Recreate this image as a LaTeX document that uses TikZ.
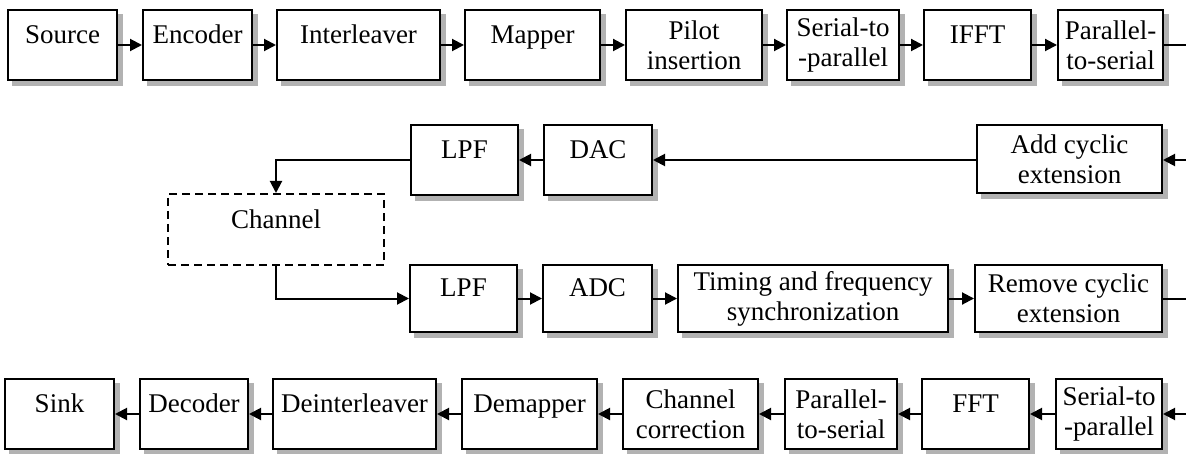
\documentclass[tikz,border=0pt]{standalone}
\usepackage{fontspec}
\setmainfont{Liberation Serif}
\usetikzlibrary{arrows.meta}

\tikzset{
	blk/.style={draw, line width=1pt, fill=white, align=center, inner sep=0pt, font=\fontsize{13.5}{15}\selectfont, preaction={draw=gray!60, fill=gray!60, line width=1pt, transform canvas={xshift=2.5pt, yshift=-2.5pt}}},
	one/.style={text depth=10.5pt},
	chbox/.style={draw, line width=1pt, dash pattern=on 4pt off 2.5pt, align=center, inner sep=0pt, font=\fontsize{13.5}{15}\selectfont},
	arr/.style={line width=1pt, -{Triangle[length=6pt,width=6pt]}},
	ln/.style={line width=1pt}
}

\begin{document}
\begin{tikzpicture}[x=0.5pt, y=-0.5pt]
	    \useasboundingbox (0,0) rectangle (1186,454);
	    
	    \node [blk, one, minimum width=54.5pt, minimum height=35pt] (AA) at (62.5,45) {Source};
	    \node [blk, one, minimum width=54.5pt, minimum height=35pt] (AB) at (197.5,45) {Encoder};
	    \node [blk, one, minimum width=81.5pt, minimum height=35pt] (AC) at (358.5,45) {Interleaver};
	    \node [blk, one, minimum width=67.5pt, minimum height=35pt] (AD) at (532.5,45) {Mapper};
	    \node [blk, minimum width=68pt, minimum height=35pt] (AE) at (694,45) {Pilot\\insertion};
	    \node [blk, minimum width=56pt, minimum height=35pt] (AF) at (843,45) {Serial-to\\-parallel};
	    \node [blk, one, minimum width=53.5pt, minimum height=35pt] (AG) at (977.5,45) {IFFT};
	    \node [blk, minimum width=52.5pt, minimum height=35pt] (AH) at (1110.5,45) {Parallel-\\to-serial};
	    \coordinate (AZ) at (1186,45);
	    
	    \node [blk, one, minimum width=53.5pt, minimum height=35pt] (BA) at (464.5,160) {LPF};
	    \node [blk, one, minimum width=54pt, minimum height=35pt] (BB) at (598,160) {DAC};
	    \node [blk, minimum width=92.5pt, minimum height=34pt] (BC) at (1069.5,159) {Add cyclic\\extension};
	    \coordinate (BZ) at (1186,160);
	    
	    \node [chbox, one, minimum width=108pt, minimum height=35.5pt] (CA) at (276,229.5) {Channel};
	    
	    \node [blk, one, minimum width=53.5pt, minimum height=33.5pt] (DA) at (463.5,298.5) {LPF};
	    \node [blk, one, minimum width=54.5pt, minimum height=33.5pt] (DB) at (597.5,298.5) {ADC};
	    \node [blk, minimum width=135pt, minimum height=33.5pt] (DC) at (813,298.5) {Timing and frequency\\synchronization};
	    \node [blk, minimum width=93.5pt, minimum height=33.5pt] (DD) at (1068.5,298.5) {Remove cyclic\\extension};
	    \coordinate (DZ) at (1186,298.5);
	    
	    \node [blk, one, minimum width=54.5pt, minimum height=35pt] (EA) at (59.5,414) {Sink};
	    \node [blk, one, minimum width=54pt, minimum height=35pt] (EB) at (194,414) {Decoder};
	    \node [blk, one, minimum width=81.5pt, minimum height=35pt] (EC) at (354.5,414) {Deinterleaver};
	    \node [blk, one, minimum width=67.5pt, minimum height=35pt] (ED) at (529.5,414) {Demapper};
	    \node [blk, minimum width=67.5pt, minimum height=35pt] (EE) at (690.5,414) {Channel\\correction};
	    \node [blk, minimum width=56pt, minimum height=35pt] (EF) at (841,414) {Parallel-\\to-serial};
	    \node [blk, one, minimum width=53.5pt, minimum height=35pt] (EG) at (975.5,414) {FFT};
	    \node [blk, minimum width=53pt, minimum height=35pt] (EH) at (1109,414) {Serial-to\\-parallel};
	    \coordinate (EZ) at (1186,414);
	    
		\draw [arr] (AA) -- (AB);
		\draw [arr] (AB) -- (AC);
		\draw [arr] (AC) -- (AD);
		\draw [arr] (AD) -- (AE);
		\draw [arr] (AE) -- (AF);
		\draw [arr] (AF) -- (AG);
		\draw [arr] (AG) -- (AH);
		\draw [ln] (AH) -- (AZ);
		
		\draw [arr] (BZ) -- (BC.east |- BZ);
		\draw [arr] (BC.west |- BZ) -- (BB);
		\draw [arr] (BB) -- (BA);
		\draw [arr] (BA.west) -| (CA.north);
		
		\draw [arr] (CA.south) |- (DA.west);
		\draw [arr] (DA) -- (DB);
		\draw [arr] (DB) -- (DC);
		\draw [arr] (DC) -- (DD);
		\draw [ln] (DD) -- (DZ);
		
		\draw [arr] (EZ) -- (EH);
		\draw [arr] (EH) -- (EG);
		\draw [arr] (EG) -- (EF);
		\draw [arr] (EF) -- (EE);
		\draw [arr] (EE) -- (ED);
		\draw [arr] (ED) -- (EC);
		\draw [arr] (EC) -- (EB);
		\draw [arr] (EB) -- (EA);
		
	\end{tikzpicture}
\end{document}
